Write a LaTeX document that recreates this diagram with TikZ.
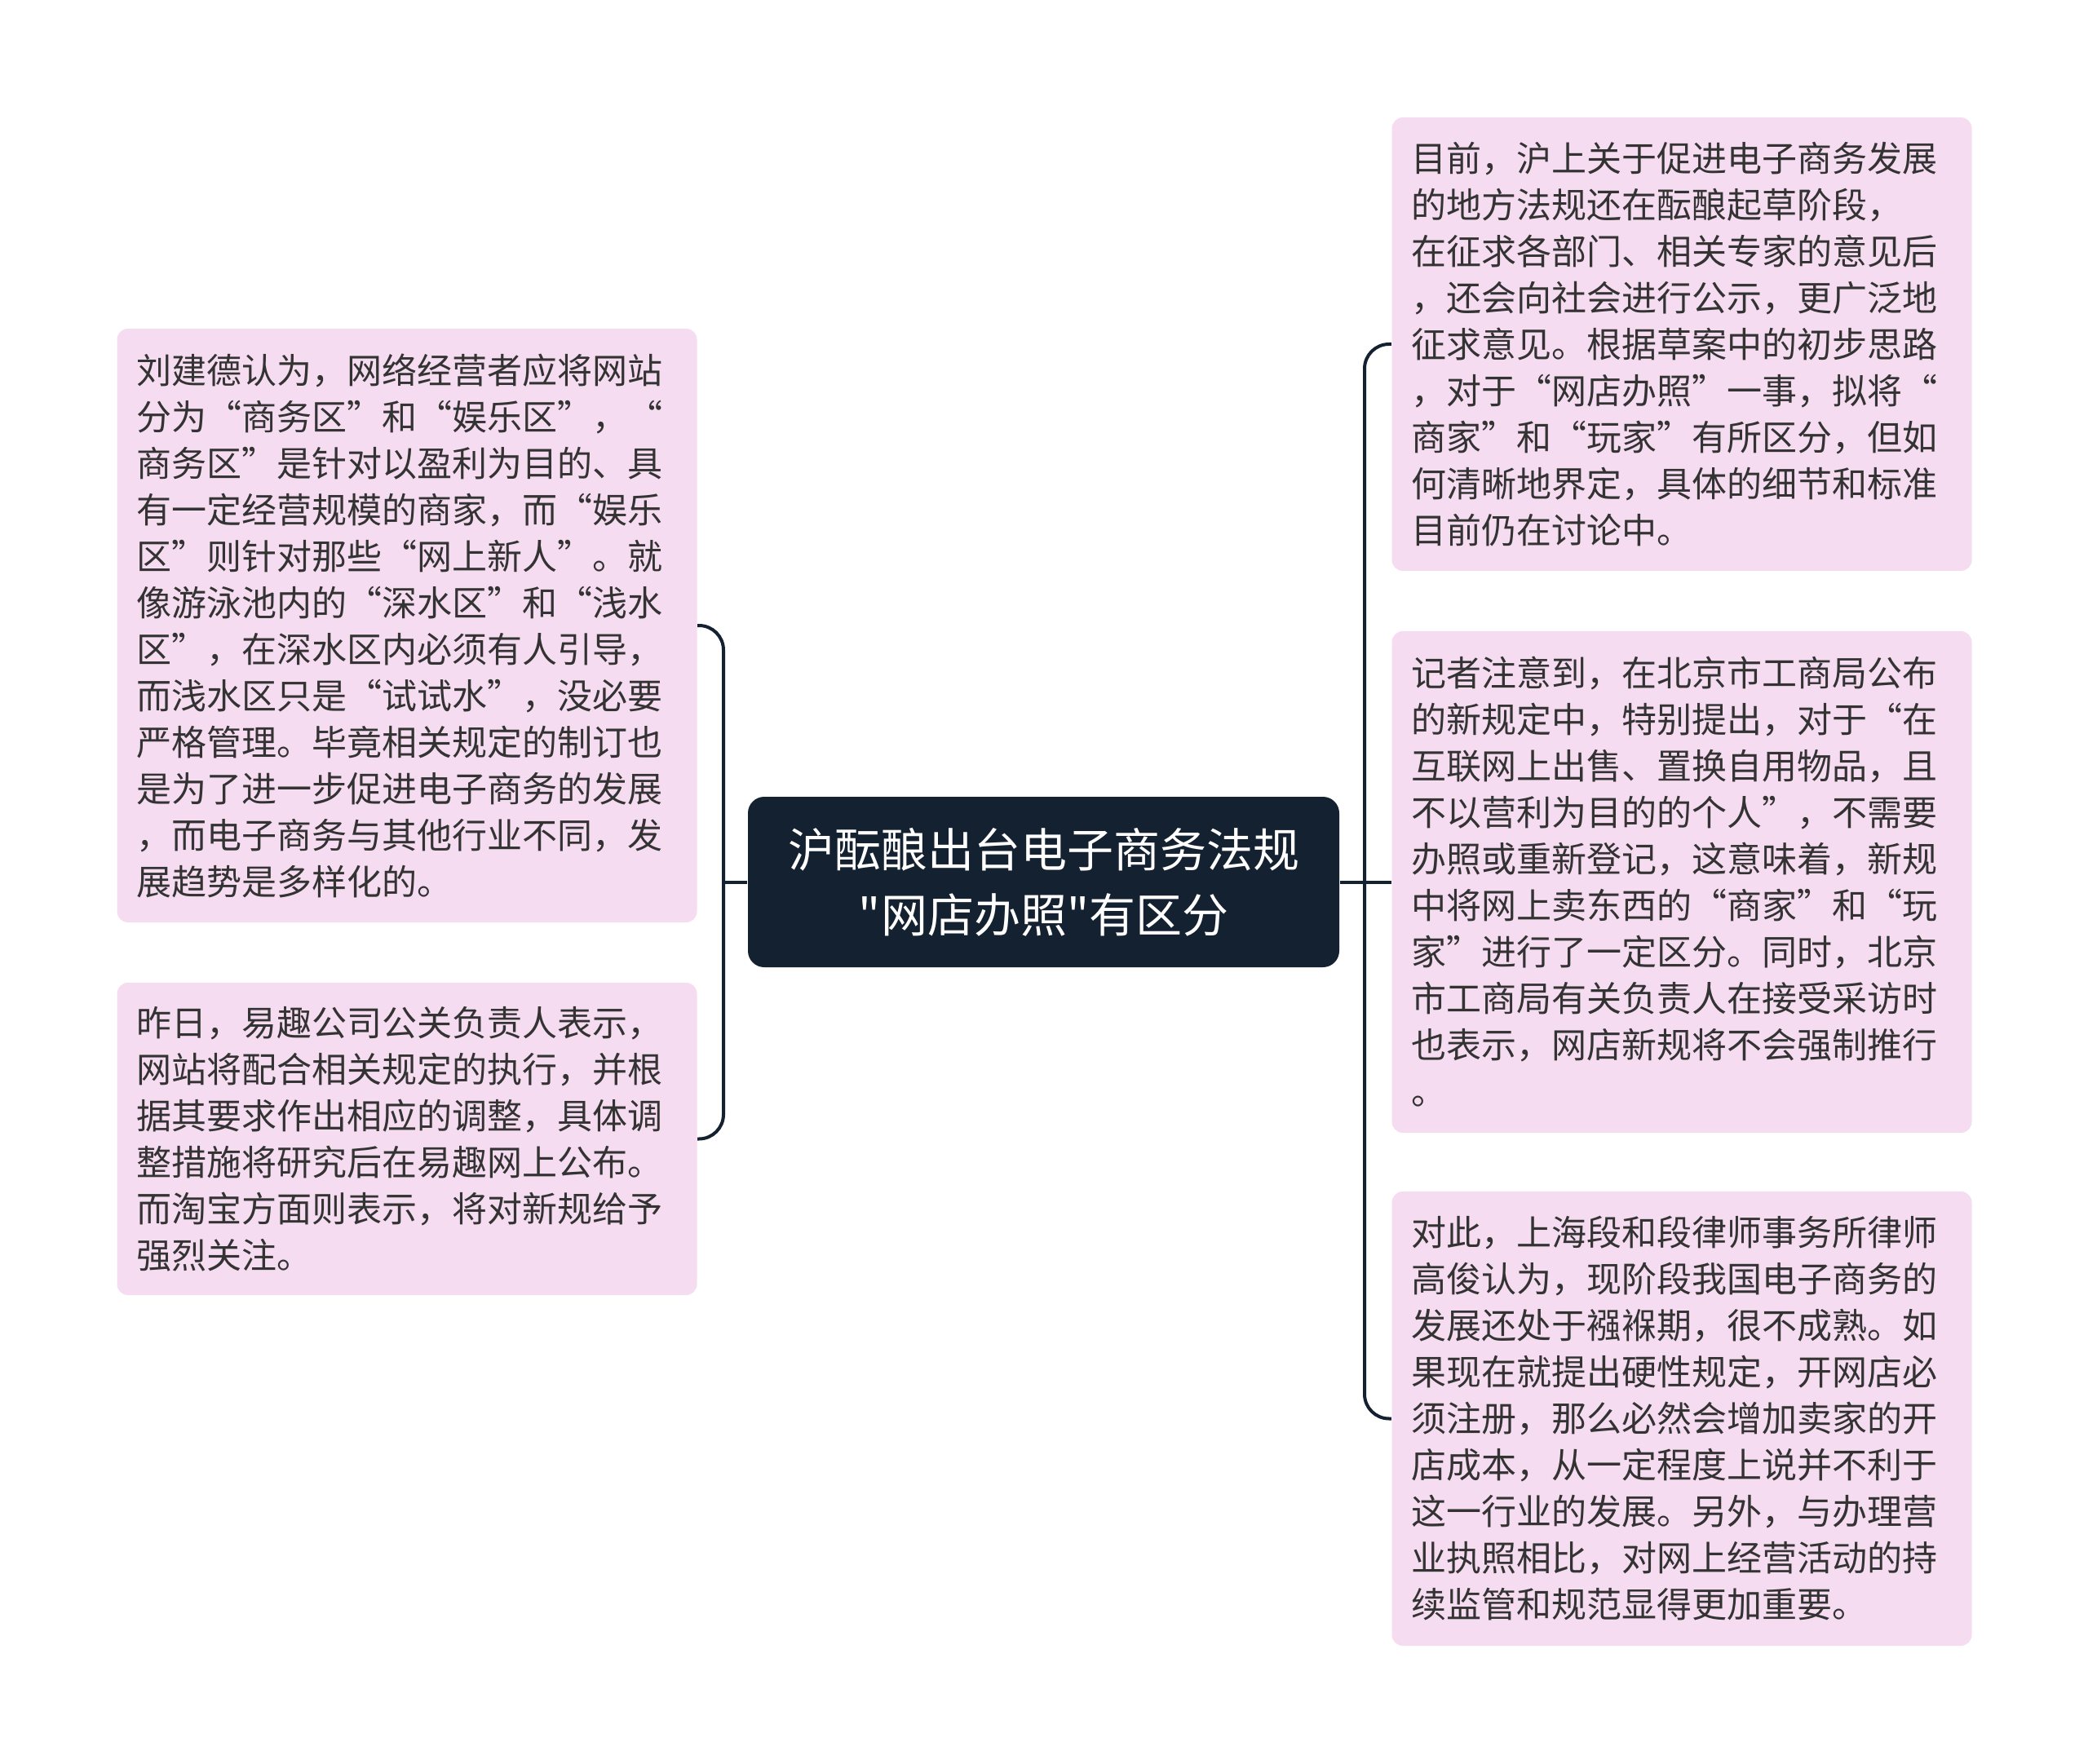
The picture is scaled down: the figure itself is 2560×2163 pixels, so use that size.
\documentclass[tikz,border=0pt]{standalone}
\usepackage{fontspec}
\setmainfont{Noto Sans CJK SC}
\newfontfamily\bodyfont[RawFeature=+fwid]{Noto Sans CJK SC}
\newfontfamily\titlefont{Noto Sans CJK SC}
\definecolor{navy}{HTML}{142131}
\definecolor{leafpink}{HTML}{F6DCF0}
\definecolor{txtgray}{HTML}{333333}
\tikzset{
  leaf/.style={fill=leafpink, rounded corners=4pt, text=txtgray, align=left,
    text width=199pt, inner xsep=7pt, inner ysep=0pt,
    font=\bodyfont\fontsize{12.9pt}{17.1pt}\selectfont,
    minimum width=213.3pt, anchor=center},
  rootbox/.style={fill=navy, rounded corners=6pt, text=white, align=center,
    font=\titlefont\fontsize{17.1pt}{24pt}\selectfont,
    minimum width=217.5pt, minimum height=62.7pt, inner sep=0pt},
  conn/.style={draw=navy, line width=1.2pt, rounded corners=9pt}
}
\begin{document}
\begin{tikzpicture}[x=0.3pt,y=-0.3pt]
\useasboundingbox (0,0) rectangle (2560,2163);

\node[rootbox] (ctr) at (1279.5,1081.5) {沪酝酿出台电子商务法规\\"网店办照"有区分};

\node[leaf, minimum height=218.4pt] (L1) at (499,767) {刘建德认为，网络经营者应将网站\\分为“商务区”和“娱乐区”，“\\商务区”是针对以盈利为目的、具\\有一定经营规模的商家，而“娱乐\\区”则针对那些“网上新人”。就\\像游泳池内的“深水区”和“浅水\\区”，在深水区内必须有人引导，\\而浅水区只是“试试水”，没必要\\严格管理。毕竟相关规定的制订也\\是为了进一步促进电子商务的发展\\，而电子商务与其他行业不同，发\\展趋势是多样化的。};

\node[leaf, minimum height=114.9pt] (L2) at (499,1396.5) {昨日，易趣公司公关负责人表示，\\网站将配合相关规定的执行，并根\\据其要求作出相应的调整，具体调\\整措施将研究后在易趣网上公布。\\而淘宝方面则表示，将对新规给予\\强烈关注。};

\node[leaf, minimum height=166.8pt] (R1) at (2062,422) {目前，沪上关于促进电子商务发展\\的地方法规还在酝酿起草阶段，\\在征求各部门、相关专家的意见后\\，还会向社会进行公示，更广泛地\\征求意见。根据草案中的初步思路\\，对于“网店办照”一事，拟将“\\商家”和“玩家”有所区分，但如\\何清晰地界定，具体的细节和标准\\目前仍在讨论中。};

\node[leaf, minimum height=184.5pt] (R2) at (2062,1081.5) {记者注意到，在北京市工商局公布\\的新规定中，特别提出，对于“在\\互联网上出售、置换自用物品，且\\不以营利为目的的个人”，不需要\\办照或重新登记，这意味着，新规\\中将网上卖东西的“商家”和“玩\\家”进行了一定区分。同时，北京\\市工商局有关负责人在接受采访时\\也表示，网店新规将不会强制推行\\。};

\node[leaf, minimum height=167.1pt] (R3) at (2062,1739.5) {对此，上海段和段律师事务所律师\\高俊认为，现阶段我国电子商务的\\发展还处于襁褓期，很不成熟。如\\果现在就提出硬性规定，开网店必\\须注册，那么必然会增加卖家的开\\店成本，从一定程度上说并不利于\\这一行业的发展。另外，与办理营\\业执照相比，对网上经营活动的持\\续监管和规范显得更加重要。};

\coordinate (lj) at (887,1081.5);
\coordinate (rj) at (1673,1081.5);

\draw[conn] (L1.east) -| (lj) |- (L2.east);
\draw[conn] (ctr.west) -- (lj);
\draw[conn] (R1.west) -| (rj) |- (R3.west);
\draw[conn] (ctr.east) -- (R2.west);
\end{tikzpicture}
\end{document}
